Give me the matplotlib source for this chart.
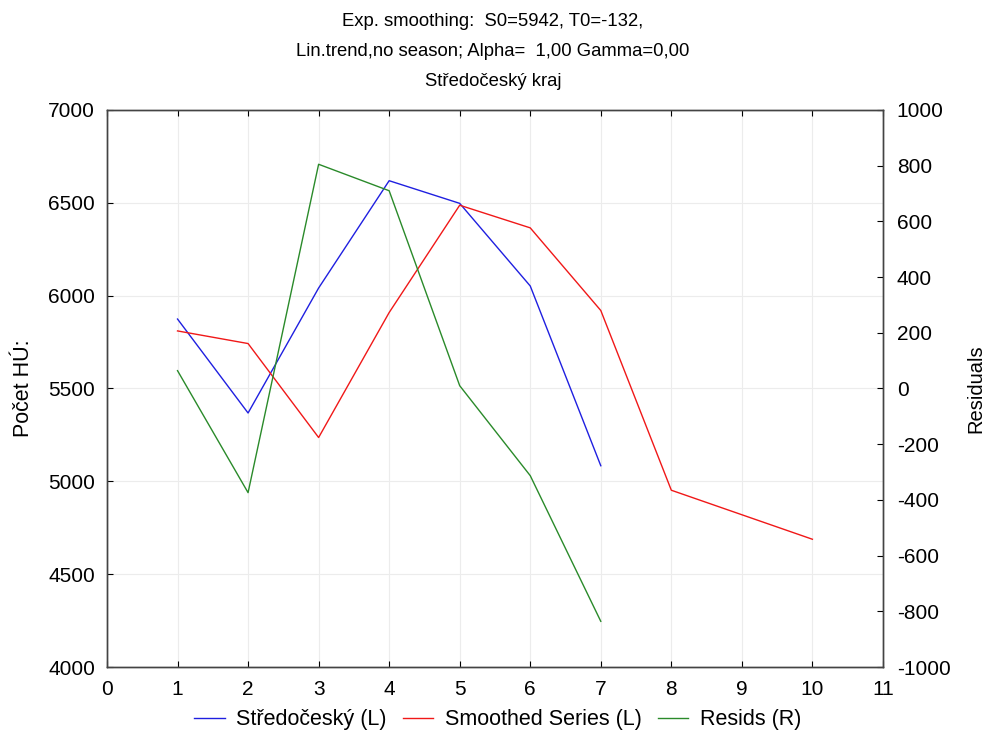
import matplotlib
matplotlib.use("Agg")
import matplotlib.pyplot as plt

plt.rcParams["font.family"] = ["Liberation Sans", "DejaVu Sans"]
plt.rcParams["axes.unicode_minus"] = False

periods = [1, 2, 3, 4, 5, 6, 7]
observed = [5874, 5368, 6041, 6619, 6497, 6052, 5084]
smooth_x = [1, 2, 3, 4, 5, 6, 7, 8, 9, 10]
smoothed = [5810, 5742, 5236, 5909, 6487, 6365, 5920, 4952, 4820, 4688]
resids = [64, -374, 805, 710, 10, -313, -836]

left_ticks = [4000, 4500, 5000, 5500, 6000, 6500, 7000]
right_ticks = [-1000, -800, -600, -400, -200, 0, 200, 400, 600, 800, 1000]
x_ticks = list(range(0, 12))

title = ("Exp. smoothing:  S0=5942, T0=-132,\n"
         "Lin.trend,no season; Alpha=  1,00 Gamma=0,00\n"
         "Středočeský kraj")

fig = plt.figure(figsize=(9.86, 7.38), dpi=100)
ax = fig.add_axes([0.1085, 0.0962, 0.787, 0.7548])
ax2 = ax.twinx()

l1, = ax.plot(periods, observed, color="#1f1fe0", lw=1.0, label="Středočeský (L)")
l2, = ax.plot(smooth_x, smoothed, color="#f01818", lw=1.0, label="Smoothed Series (L)")
l3, = ax2.plot(periods, resids, color="#2a8a2a", lw=1.0, label="Resids (R)")

ax.set_xlim(0, 11)
ax.set_ylim(4000, 7000)
ax2.set_ylim(-1000, 1000)
ax.set_xticks(x_ticks)
ax.set_yticks(left_ticks)
ax2.set_yticks(right_ticks)

ax.grid(True, color="#ececec", lw=0.8)
ax.set_axisbelow(True)

for a in (ax, ax2):
    a.tick_params(direction="in", length=4, width=0.8, labelsize=15, top=True)
    for sp in a.spines.values():
        sp.set_color("#444444")
        sp.set_linewidth(1.0)
ax.tick_params(axis="x", pad=9)
ax.tick_params(axis="y", pad=8.5)
ax2.tick_params(axis="y", pad=10)

ax.set_ylabel("Počet HÚ:", fontsize=15.5, labelpad=10)
ax2.set_ylabel("Residuals", fontsize=14.5, labelpad=11)
fig.text(0.5, 0.983, title, ha="center", va="top", fontsize=13.3, linespacing=2.02)

fig.legend(handles=[l1, l2, l3], loc="lower center", bbox_to_anchor=(0.505, -0.016),
           ncol=3, frameon=False, fontsize=15.5, handlelength=1.4,
           columnspacing=0.75, handletextpad=0.55)

fig.savefig("out.png", dpi=100)
